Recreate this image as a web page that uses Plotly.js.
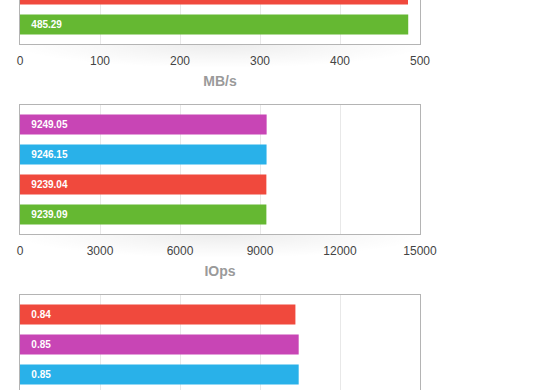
<!DOCTYPE html>
<html>
<head>
<meta charset="utf-8">
<script src="https://cdn.plot.ly/plotly-3.0.1.min.js"></script>
<style>
  html, body { margin: 0; padding: 0; background: #ffffff; overflow: hidden; width: 560px; height: 390px; }
  #wrap { position: absolute; left: 0; top: -100px; width: 560px; height: 600px; }
  .shadow { position: absolute; left: 20px; width: 400px; height: 24px;
    background: radial-gradient(ellipse 52% 100% at 50% 0%, rgba(0,0,0,0.075), rgba(0,0,0,0.03) 55%, rgba(0,0,0,0) 100%); }
  #chart { position: absolute; left: 0; top: 0; width: 560px; height: 600px; }
</style>
</head>
<body>
<div id="wrap">
  <div class="shadow" style="top:144px"></div>
  <div class="shadow" style="top:334px"></div>
  <div id="chart"></div>
</div>
<script>
// ---- data (null = bar not visible in the picture) ----
var mbpsSeries  = ["Series 1", "Series 2", "Series 3", "Series 4"];
var mbpsValues  = [null, null, 485.0, 485.29];
var mbpsColors  = ["#C845B5", "#29B1E9", "#F0493D", "#65B832"];

var iopsSeries  = ["Series 1", "Series 2", "Series 3", "Series 4"];
var iopsValues  = [9249.05, 9246.15, 9239.04, 9239.09];
var iopsColors  = ["#C845B5", "#29B1E9", "#F0493D", "#65B832"];

var latSeries   = ["Series 3", "Series 1", "Series 2", "Series 4"];
var latValues   = [0.84, 0.85, 0.85, null];
var latColors   = ["#F0493D", "#C845B5", "#29B1E9", "#65B832"];

var axisTitles  = ["MB/s", "IOps", ""];
var axisMax     = [500, 15000, 1.22];

// ---- chart ----
var FONT = "Liberation Sans, Arial, Helvetica, sans-serif";
function barTrace(cats, vals, cols, n, textpos) {
  return {
    type: "bar", orientation: "h",
    y: cats, x: vals,
    xaxis: "x" + (n === 1 ? "" : n), yaxis: "y" + (n === 1 ? "" : n),
    marker: { color: cols, line: { width: 0 } },
    width: 0.667,
    texttemplate: "\u00a0\u00a0\u00a0%{x:.2f}",
    textposition: textpos,
    insidetextanchor: "start",
    constraintext: "none",
    textfont: { family: FONT, size: 10, color: "#ffffff", weight: "bold" },
    hoverinfo: "skip",
    showlegend: false,
    cliponaxis: true
  };
}
var traces = [
  // label of the top, mostly cut-off red bar is not visible in the picture
  barTrace(mbpsSeries, mbpsValues, mbpsColors, 1, ["inside", "inside", "none", "inside"]),
  barTrace(iopsSeries, iopsValues, iopsColors, 2, "inside"),
  barTrace(latSeries, latValues, latColors, 3, "inside")
];

function xAxis(i, showLabels) {
  return {
    range: [0, axisMax[i]], dtick: axisMax[i] / 5, tick0: 0,
    tickformat: "d",
    showgrid: true, gridcolor: "#e8e8e8", gridwidth: 1,
    zeroline: false, showline: true, mirror: true, linecolor: "#b4b4b4", linewidth: 1,
    ticks: "", ticklabelstandoff: 6, showticklabels: showLabels,
    tickfont: { family: FONT, size: 12, color: "#444444" },
    title: { text: axisTitles[i], standoff: 8,
             font: { family: FONT, size: 14, color: "#9a9a9a", weight: "bold" } },
    anchor: "y" + (i === 0 ? "" : (i + 1)),
    fixedrange: true
  };
}
function yAxis(i, cats, dom) {
  return {
    domain: dom, type: "category", categoryorder: "array", categoryarray: cats,
    range: [3.65, -0.65],
    showticklabels: false, showgrid: false, zeroline: false,
    showline: true, mirror: true, linecolor: "#b4b4b4", linewidth: 1, ticks: "",
    anchor: "x" + (i === 0 ? "" : (i + 1)),
    fixedrange: true
  };
}

var layout = {
  width: 560, height: 600,
  margin: { l: 20, r: 140, t: 15, b: 76 },
  paper_bgcolor: "rgba(0,0,0,0)", plot_bgcolor: "#ffffff",
  font: { family: FONT },
  bargap: 0.333,
  xaxis: xAxis(0, true), xaxis2: xAxis(1, true), xaxis3: xAxis(2, false),
  yaxis: yAxis(0, mbpsSeries, [0.7466, 1.0]),
  yaxis2: yAxis(1, iopsSeries, [0.3733, 0.6267]),
  yaxis3: yAxis(2, latSeries, [0.0, 0.2534])
};

Plotly.newPlot("chart", traces, layout, { staticPlot: true, displayModeBar: false });
</script>
</body>
</html>
